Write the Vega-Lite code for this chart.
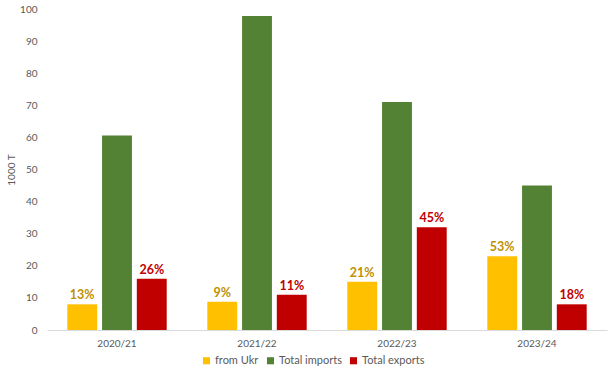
{
  "$schema": "https://vega.github.io/schema/vega-lite/v6.json",
  "autosize": "none",
  "width": 560,
  "height": 321,
  "padding": {"left": 47, "top": 9, "right": 8, "bottom": 46},
  "background": "white",
  "config": {
    "font": "Lato",
    "view": {"stroke": null}
  },
  "data": {
    "values": [
      {"year": "2020/21", "series": "from Ukr", "value": 8, "label": "13%"},
      {"year": "2020/21", "series": "Total imports", "value": 60.6, "label": ""},
      {"year": "2020/21", "series": "Total exports", "value": 16, "label": "26%"},
      {"year": "2021/22", "series": "from Ukr", "value": 8.8, "label": "9%"},
      {"year": "2021/22", "series": "Total imports", "value": 97.8, "label": ""},
      {"year": "2021/22", "series": "Total exports", "value": 11, "label": "11%"},
      {"year": "2022/23", "series": "from Ukr", "value": 15, "label": "21%"},
      {"year": "2022/23", "series": "Total imports", "value": 71, "label": ""},
      {"year": "2022/23", "series": "Total exports", "value": 32, "label": "45%"},
      {"year": "2023/24", "series": "from Ukr", "value": 23, "label": "53%"},
      {"year": "2023/24", "series": "Total imports", "value": 45, "label": ""},
      {"year": "2023/24", "series": "Total exports", "value": 8, "label": "18%"}
    ]
  },
  "encoding": {
    "x": {
      "field": "year",
      "type": "nominal",
      "scale": {"paddingInner": 0.29, "paddingOuter": 0.145},
      "axis": {
        "title": null,
        "labelAngle": 0,
        "ticks": false,
        "domainColor": "#d9d9d9",
        "domainWidth": 1,
        "labelColor": "#595959",
        "labelFontSize": 10,
        "labelPadding": 8
      }
    },
    "xOffset": {
      "field": "series",
      "type": "nominal",
      "sort": ["from Ukr", "Total imports", "Total exports"],
      "scale": {"paddingInner": 0.14}
    },
    "y": {
      "field": "value",
      "type": "quantitative",
      "scale": {"domain": [0, 100], "nice": false},
      "axis": {
        "values": [0, 10, 20, 30, 40, 50, 60, 70, 80, 90, 100],
        "title": "1000 T",
        "titleFontSize": 10,
        "titleFontWeight": "normal",
        "titleColor": "#595959",
        "titlePadding": 3,
        "grid": false,
        "domain": false,
        "ticks": false,
        "labelColor": "#595959",
        "labelFontSize": 10,
        "labelPadding": 10
      }
    }
  },
  "layer": [
    {
      "mark": {"type": "bar"},
      "encoding": {
        "color": {
          "field": "series",
          "type": "nominal",
          "sort": ["from Ukr", "Total imports", "Total exports"],
          "scale": {
            "domain": ["from Ukr", "Total imports", "Total exports"],
            "range": ["#FFC000", "#548235", "#C00000"]
          },
          "legend": {
            "title": null,
            "orient": "none",
            "direction": "horizontal",
            "legendX": 154,
            "legendY": 346,
            "symbolType": "square",
            "symbolSize": 50,
            "symbolStrokeWidth": 0,
            "labelFontSize": 11,
            "labelColor": "#595959",
            "columnPadding": 6,
            "labelOffset": 3
          }
        }
      }
    },
    {
      "mark": {"type": "text", "dy": -9, "fontSize": 12.5, "fontWeight": "bold"},
      "encoding": {
        "text": {"field": "label"},
        "color": {
          "field": "series",
          "type": "nominal",
          "scale": {
            "domain": ["from Ukr", "Total imports", "Total exports"],
            "range": ["#BF9000", "#548235", "#C00000"]
          },
          "legend": null
        }
      }
    }
  ],
  "resolve": {"scale": {"color": "independent"}}
}
